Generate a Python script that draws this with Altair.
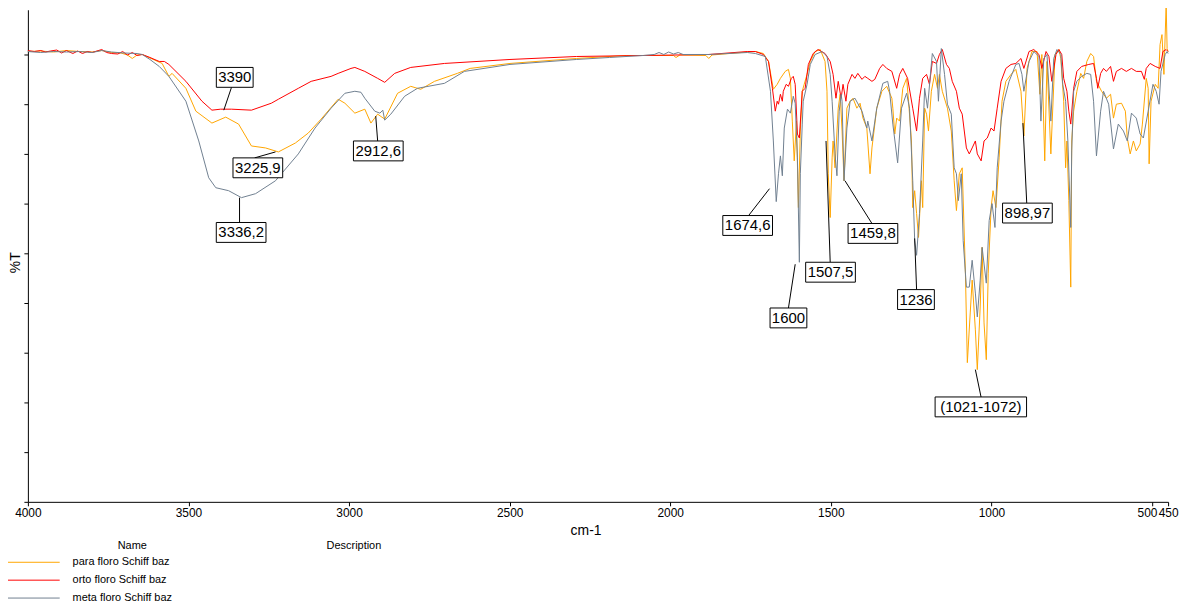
import altair as alt
import pandas as pd

SERIES = ["para floro Schiff baz", "orto floro Schiff baz", "meta floro Schiff baz"]
COLORS = ["#FFA500", "#FF0000", "#708090"]

X_TICKS = [4000, 3500, 3000, 2500, 2000, 1500, 1000, 500, 450]
Y_TICKS = [0, 10, 20, 30, 40, 50, 60, 70, 80, 90]

para_wn = [4000, 3960, 3920, 3880, 3840, 3800, 3770, 3740, 3710, 3690, 3675, 3660, 3644, 3582, 3561, 3551,
           3508, 3477, 3427, 3384, 3344, 3304, 3260, 3220, 3167, 3127, 3087, 3034, 3013, 2982, 2951, 2932,
           2911, 2889, 2849, 2808, 2777, 2734, 2663, 2623, 2499, 2292, 2137, 1990, 1982, 1970, 1889, 1880,
           1870, 1760, 1735, 1710, 1694, 1679, 1667, 1657, 1642, 1632, 1626, 1620, 1614, 1607, 1601, 1595,
           1589, 1583, 1574, 1564, 1549, 1533, 1518, 1512, 1508, 1502, 1496, 1493, 1487, 1477, 1471, 1465,
           1459, 1450, 1440, 1431, 1419, 1409, 1400, 1388, 1378, 1372, 1357, 1341, 1326, 1310, 1307, 1301,
           1295, 1286, 1276, 1264, 1258, 1249, 1245, 1239, 1233, 1227, 1218, 1214, 1208, 1202, 1196, 1187,
           1177, 1168, 1162, 1153, 1137, 1125, 1116, 1109, 1100, 1091, 1081, 1075, 1066, 1060, 1050, 1044,
           1035, 1029, 1023, 1016, 1010, 1001, 995, 986, 976, 967, 955, 939, 924, 908, 899, 889,
           874, 858, 849, 843, 834, 827, 815, 802, 790, 784, 775, 769, 765, 759, 753, 750,
           744, 734, 722, 713, 703, 691, 682, 673, 657, 642, 629, 620, 611, 595, 583, 577,
           568, 558, 549, 537, 530, 518, 512, 509, 503, 490, 481, 475, 469, 463, 456, 453, 450]
para_t = [90.6, 90.7, 90.5, 90.8, 90.6, 90.5, 90.8, 90.4, 90.3, 89.9, 89.2, 89.9, 90.0, 88.2, 85.6, 86.2,
          83.2, 78.6, 76.2, 77.4, 76.0, 71.6, 71.2, 70.4, 72.2, 74.2, 77.0, 81.0, 80.2, 78.2, 79.0, 76.2,
          78.0, 77.0, 82.2, 83.6, 83.0, 84.6, 86.2, 87.2, 88.2, 89.2, 89.8, 89.8, 89.4, 89.9, 89.8, 89.2,
          89.9, 90.5, 90.6, 90.2, 88.6, 83.0, 84.0, 85.2, 86.6, 87.0, 85.2, 76.6, 68.6, 76.6, 59.2, 74.6,
          82.6, 84.0, 86.0, 88.6, 90.6, 91.0, 88.6, 82.6, 66.0, 57.2, 69.2, 72.6, 67.2, 79.2, 82.0, 74.6,
          64.6, 79.2, 80.6, 81.2, 79.2, 80.2, 77.2, 75.2, 66.0, 71.2, 79.2, 82.6, 83.6, 81.2, 79.2, 74.0,
          77.2, 76.6, 83.2, 85.2, 80.6, 72.6, 59.2, 62.6, 58.0, 53.2, 64.6, 59.2, 79.2, 78.0, 74.6, 82.6,
          86.0, 83.2, 86.0, 82.6, 79.2, 74.6, 64.6, 58.6, 66.0, 67.2, 46.0, 28.0, 38.0, 44.6, 34.6, 26.6,
          39.2, 51.2, 36.0, 28.6, 46.0, 59.2, 62.6, 59.2, 69.2, 80.6, 84.6, 86.0, 87.0, 82.6, 73.6, 87.2,
          90.6, 90.6, 82.0, 90.0, 68.6, 88.6, 70.0, 90.0, 91.0, 89.2, 80.6, 67.2, 72.6, 60.6, 43.2, 72.6,
          78.6, 82.6, 86.2, 85.2, 88.6, 90.2, 89.6, 84.6, 82.6, 81.2, 82.0, 77.2, 80.0, 80.2, 78.6, 73.2,
          70.0, 72.6, 70.6, 72.0, 76.0, 85.2, 83.2, 68.0, 80.6, 84.0, 83.2, 92.0, 94.0, 86.0, 100.0, 91.2, 90.6]

orto_wn = [4000, 3980, 3960, 3945, 3930, 3910, 3895, 3880, 3860, 3845, 3830, 3815, 3800, 3785, 3770, 3755,
           3740, 3720, 3705, 3690, 3675, 3660, 3644, 3620, 3591, 3575, 3561, 3508, 3458, 3427, 3400, 3366,
           3304, 3242, 3220, 3158, 3118, 3056, 3034, 2994, 2982, 2951, 2911, 2889, 2858, 2808, 2703, 2499,
           2292, 2084, 1880, 1760, 1735, 1710, 1694, 1682, 1673, 1667, 1663, 1657, 1651, 1648, 1639, 1632,
           1623, 1617, 1611, 1604, 1598, 1589, 1580, 1570, 1555, 1540, 1518, 1502, 1493, 1484, 1477, 1468,
           1462, 1453, 1447, 1434, 1425, 1416, 1403, 1394, 1385, 1372, 1363, 1348, 1338, 1326, 1310, 1295,
           1286, 1276, 1261, 1245, 1233, 1224, 1214, 1202, 1193, 1184, 1171, 1162, 1153, 1140, 1131, 1122,
           1109, 1100, 1091, 1078, 1069, 1060, 1050, 1044, 1032, 1023, 1013, 1001, 992, 982, 970, 955,
           939, 924, 908, 899, 883, 868, 852, 843, 830, 821, 812, 799, 790, 781, 775, 765,
           759, 753, 744, 734, 719, 697, 682, 673, 669, 660, 651, 642, 629, 620, 611, 595,
           580, 564, 549, 533, 524, 518, 506, 490, 475, 466, 456, 450]
orto_t = [90.8, 90.6, 90.8, 90.5, 90.7, 90.9, 90.3, 90.8, 90.2, 90.7, 90.2, 90.6, 90.4, 90.7, 91.0, 90.4,
          90.2, 90.1, 90.6, 89.9, 90.4, 89.8, 90.0, 89.4, 88.6, 88.6, 88.0, 84.6, 80.6, 78.8, 79.0, 79.0,
          78.8, 80.2, 81.0, 83.2, 84.6, 85.6, 86.2, 87.2, 87.4, 86.6, 85.2, 84.4, 86.2, 87.4, 88.2, 89.0,
          89.6, 89.8, 90.0, 90.6, 90.6, 90.0, 88.6, 83.2, 78.6, 80.6, 80.0, 82.0, 80.6, 82.6, 84.0, 83.6,
          85.2, 85.6, 84.0, 74.0, 73.2, 82.6, 83.2, 88.0, 90.2, 91.0, 90.2, 88.6, 86.0, 81.2, 84.6, 81.2,
          84.0, 80.6, 84.0, 86.0, 85.2, 86.2, 85.0, 85.6, 85.2, 84.6, 85.0, 87.2, 88.0, 87.2, 86.6, 83.2,
          86.0, 87.2, 85.2, 79.2, 74.6, 81.2, 85.2, 86.0, 84.0, 88.6, 88.2, 90.0, 91.0, 88.0, 87.2, 84.6,
          82.6, 79.2, 78.0, 71.2, 70.0, 71.2, 72.6, 70.0, 68.6, 72.6, 73.2, 75.2, 74.6, 79.2, 84.6, 87.2,
          88.0, 88.2, 89.2, 87.2, 90.6, 91.0, 90.0, 87.2, 90.6, 89.6, 84.6, 90.0, 91.0, 90.0, 85.2, 82.6,
          78.6, 76.0, 83.2, 86.6, 87.6, 88.0, 88.2, 85.2, 83.2, 86.2, 87.2, 86.6, 87.6, 84.6, 86.6, 87.2,
          86.6, 87.2, 86.6, 86.6, 85.0, 87.2, 88.2, 87.6, 87.2, 90.6, 91.0, 90.6]

meta_wn = [4000, 3960, 3920, 3880, 3840, 3800, 3770, 3740, 3700, 3660, 3644, 3620, 3591, 3561, 3508, 3468,
           3437, 3415, 3375, 3335, 3291, 3229, 3158, 3106, 3056, 3013, 2982, 2963, 2951, 2920, 2904, 2895,
           2889, 2870, 2827, 2787, 2703, 2641, 2499, 2292, 2189, 2084, 2050, 2035, 2020, 2005, 1990, 1975,
           1960, 1880, 1760, 1735, 1704, 1688, 1679, 1670, 1663, 1657, 1651, 1645, 1635, 1626, 1617, 1611,
           1604, 1598, 1595, 1589, 1586, 1574, 1564, 1549, 1527, 1512, 1502, 1496, 1487, 1481, 1474, 1468,
           1465, 1459, 1450, 1440, 1425, 1403, 1388, 1385, 1372, 1357, 1338, 1323, 1317, 1307, 1292, 1280,
           1264, 1255, 1245, 1239, 1233, 1224, 1214, 1208, 1199, 1190, 1184, 1171, 1165, 1156, 1146, 1137,
           1125, 1116, 1109, 1103, 1094, 1088, 1078, 1069, 1060, 1050, 1044, 1035, 1029, 1016, 1007, 998,
           989, 982, 970, 961, 945, 924, 914, 905, 899, 883, 868, 852, 846, 837, 827, 815,
           806, 796, 784, 778, 769, 762, 753, 750, 744, 734, 719, 703, 691, 682, 673, 660,
           651, 635, 620, 605, 589, 577, 564, 549, 537, 527, 512, 497, 487, 478, 472, 459, 453, 450]
meta_t = [90.6, 90.4, 90.6, 90.5, 90.6, 90.4, 90.8, 90.5, 90.3, 90.2, 90.0, 89.0, 87.6, 85.6, 80.6, 72.6,
          65.2, 63.2, 62.6, 61.2, 62.0, 64.6, 70.0, 75.2, 79.2, 82.2, 82.6, 82.4, 81.2, 78.6, 78.2, 78.8,
          76.8, 78.0, 81.6, 83.2, 84.2, 86.6, 88.0, 89.0, 89.4, 89.8, 90.0, 90.4, 90.0, 90.5, 90.1, 90.4,
          90.0, 90.0, 90.4, 90.2, 89.6, 82.6, 72.6, 60.4, 66.0, 69.6, 65.6, 75.2, 79.0, 78.2, 81.6, 80.2,
          69.2, 48.2, 66.0, 76.0, 80.6, 84.0, 88.0, 90.0, 90.6, 89.6, 86.0, 80.6, 70.0, 65.6, 78.6, 82.0,
          80.6, 64.6, 75.2, 80.6, 81.2, 78.6, 75.2, 76.6, 72.6, 79.2, 84.2, 84.6, 82.6, 76.0, 68.2, 79.2,
          82.2, 79.2, 64.6, 52.6, 49.6, 58.0, 72.6, 83.2, 79.2, 86.0, 90.2, 88.6, 80.6, 91.2, 86.0, 80.0,
          78.0, 67.2, 66.0, 60.6, 66.0, 52.6, 43.2, 43.2, 48.6, 42.0, 37.2, 44.6, 51.2, 44.0, 56.6, 60.0,
          55.2, 67.2, 76.6, 80.6, 84.6, 88.0, 88.2, 86.0, 82.6, 88.6, 90.6, 89.6, 76.6, 89.2, 90.0, 76.6,
          89.2, 91.0, 90.0, 84.0, 80.6, 72.6, 55.2, 70.6, 82.6, 84.6, 85.6, 86.2, 86.0, 80.6, 69.6, 78.6,
          82.6, 80.0, 71.0, 76.0, 74.6, 72.6, 78.2, 77.2, 74.0, 73.2, 78.6, 84.0, 82.6, 80.0, 86.6, 90.0, 90.6, 90.2]

# peak annotations: label, label centre, leader start, leader end (cm-1, %T)
ann_label = ["3390", "3225,9", "3336,2", "2912,6", "1674,6", "1600", "1507,5", "1459,8", "1236",
             "(1021-1072)", "898,97"]
ann_wn = [3356, 3284, 3336, 2909, 1759, 1632, 1501, 1369, 1235, 1033, 888]
ann_t = [85.4, 67.2, 54.2, 70.6, 55.6, 37.0, 46.2, 54.0, 40.7, 19.1, 58.1]
lead_wn0 = [3366, 3294, 3341, 2911, 1756, 1632, 1502, 1372, 1233, 1032, 890]
lead_t0 = [83.4, 69.2, 56.0, 72.6, 57.6, 39.0, 48.2, 56.0, 42.6, 21.0, 60.0]
lead_wn1 = [3390, 3229, 3341, 2917, 1691, 1611, 1515, 1456, 1239, 1050, 902]
lead_t1 = [78.8, 70.4, 61.2, 77.6, 63.0, 47.8, 72.6, 64.6, 53.0, 26.6, 76.2]

FONT = "Liberation Sans"

frames = []
for name, wns, ts in zip(SERIES, [para_wn, orto_wn, meta_wn], [para_t, orto_t, meta_t]):
    frames.append(pd.DataFrame({"series": name, "wn": wns, "T": ts}))
spec_df = pd.concat(frames, ignore_index=True)

ann_df = pd.DataFrame({
    "label": ann_label, "lw": ann_wn, "lt": ann_t,
    "sw": lead_wn0, "st": lead_t0, "ew": lead_wn1, "et": lead_t1,
})
ann_df["n"] = ann_df["label"].str.len()

x_scale = alt.Scale(domain=[4000, 450], nice=False, zero=False)
y_scale = alt.Scale(domain=[0, 99], nice=False, zero=False)
X_TITLE = "cm-1"
Y_TITLE = "%T"

lines = alt.Chart(spec_df).mark_line(strokeWidth=1, interpolate="linear").encode(
    x=alt.X("wn:Q", scale=x_scale, title=X_TITLE,
            axis=alt.Axis(values=X_TICKS, format="d", labelFlush=False, labelOverlap=False,
                          tickSize=4, labelFontSize=12, labelPadding=2, titleFontSize=14,
                          titleX=561, titleY=29, titleBaseline="middle",
                          labelOffset={"condition": {"test": "datum.value == 500", "value": -5}, "value": 0})),
    y=alt.Y("T:Q", scale=y_scale, title=Y_TITLE,
            axis=alt.Axis(values=Y_TICKS, labels=False, tickSize=4, titleFontSize=14,
                          titleX=-12, titleY=254, titleBaseline="middle", titleAngle=-90)),
    color=alt.Color("series:N", sort=SERIES,
                    scale=alt.Scale(domain=SERIES, range=COLORS),
                    legend=alt.Legend(orient="none", legendX=-20.5, legendY=547, title=None,
                                      symbolType="stroke", symbolSize=2704, symbolStrokeWidth=1,
                                      labelFontSize=11, labelFont=FONT, labelColor="black",
                                      labelOffset=12.5, clipHeight=17.6, rowPadding=0, padding=0,
                                      labelLimit=400)),
)

leaders = alt.Chart(ann_df).mark_rule(color="black", strokeWidth=1).encode(
    x=alt.X("sw:Q", scale=x_scale, title=X_TITLE),
    y=alt.Y("st:Q", scale=y_scale, title=Y_TITLE),
    x2="ew:Q", y2="et:Q",
)

BOX_W = {4: 37, 6: 50, 11: 92}
boxes = []
for n, w in BOX_W.items():
    boxes.append(
        alt.Chart(ann_df).transform_filter(alt.datum.n == n).mark_rect(
            fill="white", stroke="black", strokeWidth=1,
            xOffset=-w / 2, x2Offset=w / 2, yOffset=-10, y2Offset=10,
        ).encode(
            x=alt.X("lw:Q", scale=x_scale, title=X_TITLE), x2="lw:Q",
            y=alt.Y("lt:Q", scale=y_scale, title=Y_TITLE), y2="lt:Q",
        )
    )

labels = alt.Chart(ann_df).mark_text(font=FONT, fontSize=15, color="black", baseline="middle",
                                     align="center").encode(
    x=alt.X("lw:Q", scale=x_scale, title=X_TITLE),
    y=alt.Y("lt:Q", scale=y_scale, title=Y_TITLE),
    text="label:N",
)

one = pd.DataFrame({"k": [0]})
name_head = alt.Chart(one).mark_text(font=FONT, fontSize=11, color="black", baseline="middle").encode(
    x=alt.value(105), y=alt.value(539), text=alt.value("Name"))
desc_head = alt.Chart(one).mark_text(font=FONT, fontSize=11, color="black", baseline="middle").encode(
    x=alt.value(328), y=alt.value(539), text=alt.value("Description"))

chart = alt.layer(lines, leaders, *boxes, labels, name_head, desc_head).properties(
    width=1147, height=495,
    padding={"left": 20, "top": 0, "right": 14, "bottom": 101},
    autosize=alt.AutoSizeParams(type="none"),
    background="white",
).configure_view(stroke=None).configure_axis(
    grid=False, domainColor="black", tickColor="black", labelColor="black", titleColor="black",
    labelFont=FONT, titleFont=FONT, titleFontWeight="normal", domainWidth=1, tickWidth=1,
)

chart.save("out.html", embed_options={"renderer": "svg", "actions": False})
